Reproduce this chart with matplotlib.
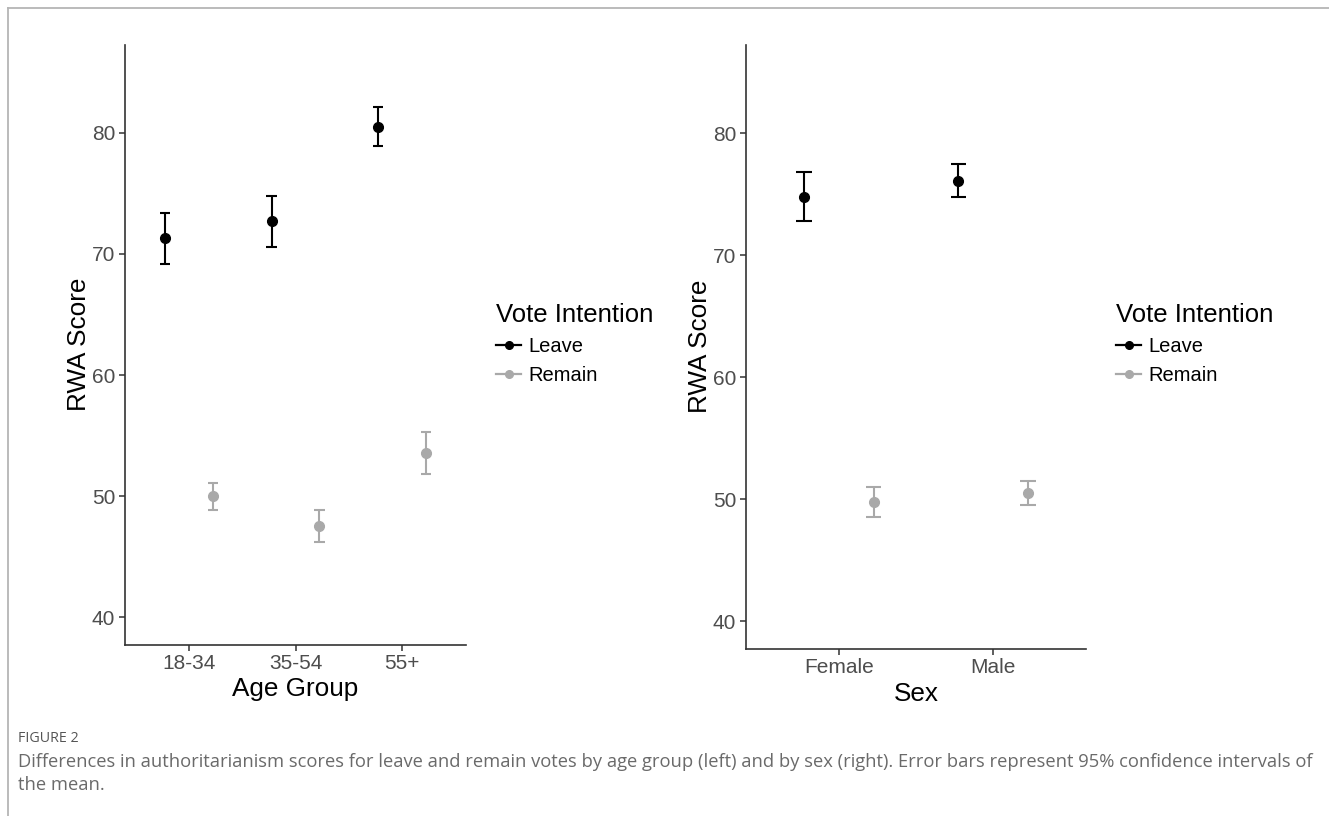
import numpy as np
import matplotlib
matplotlib.use("Agg")
import matplotlib.pyplot as plt
from matplotlib.lines import Line2D

plt.rcParams["font.family"] = ["Liberation Sans", "DejaVu Sans"]

# -----------------------------------------------------------------------
# Data: means and 95% CI bounds
# -----------------------------------------------------------------------
AGE_GROUPS = ["18-34", "35-54", "55+"]
AGE_LEAVE = [71.3, 72.7, 80.5]
AGE_LEAVE_LO = [69.2, 70.6, 78.9]
AGE_LEAVE_HI = [73.4, 74.8, 82.1]
AGE_REMAIN = [50.0, 47.55, 53.55]
AGE_REMAIN_LO = [48.9, 46.25, 51.8]
AGE_REMAIN_HI = [51.1, 48.85, 55.3]

SEXES = ["Female", "Male"]
SEX_LEAVE = [74.8, 76.1]
SEX_LEAVE_LO = [72.85, 74.8]
SEX_LEAVE_HI = [76.8, 77.45]
SEX_REMAIN = [49.75, 50.5]
SEX_REMAIN_LO = [48.55, 49.5]
SEX_REMAIN_HI = [51.0, 51.5]

Y_TICKS = [40, 50, 60, 70, 80]

LEAVE_COLOR = "#000000"
REMAIN_COLOR = "#a9a9a9"
AXIS_COLOR = "#333333"
TICK_TEXT = "#4d4d4d"
DODGE = 0.225
CAP_HALF = 0.05


def draw_group(ax, pos, mean, lo, hi, color):
    ax.vlines(pos, lo, hi, color=color, lw=1.5, zorder=2)
    ax.hlines(lo, pos - CAP_HALF, pos + CAP_HALF, color=color, lw=1.5, zorder=2)
    ax.hlines(hi, pos - CAP_HALF, pos + CAP_HALF, color=color, lw=1.5, zorder=2)
    ax.plot(pos, mean, "o", color=color, ms=7, zorder=3, mec=color)


def panel(ax, cats, leave, leave_lo, leave_hi, remain, remain_lo, remain_hi, xlabel):
    x = np.arange(1, len(cats) + 1)
    draw_group(ax, x - DODGE, leave, leave_lo, leave_hi, LEAVE_COLOR)
    draw_group(ax, x + DODGE, remain, remain_lo, remain_hi, REMAIN_COLOR)

    ax.set_xlim(0.4, len(cats) + 0.6)
    ax.set_ylim(37.75, 87.25)
    ax.set_xticks(x)
    ax.set_xticklabels(cats)
    ax.set_yticks(Y_TICKS)
    for side in ("top", "right"):
        ax.spines[side].set_visible(False)
    for side in ("left", "bottom"):
        ax.spines[side].set_color(AXIS_COLOR)
        ax.spines[side].set_linewidth(1.2)
    ax.tick_params(axis="both", length=4, width=1.1, color=AXIS_COLOR,
                   labelcolor=TICK_TEXT, labelsize=15, pad=3)
    ax.set_xlabel(xlabel, fontsize=18.8, labelpad=3)
    ax.set_ylabel("RWA Score", fontsize=18.8, labelpad=1)

    handles = [
        Line2D([], [], color=LEAVE_COLOR, marker="o", ms=5.5, lw=1.6),
        Line2D([], [], color=REMAIN_COLOR, marker="o", ms=5.5, lw=1.6),
    ]
    return handles


fig = plt.figure(figsize=(13.29, 8.16), dpi=100)
W, H = 1329, 816

ax1 = fig.add_axes([125 / W, 1 - 644.6 / H, (466 - 125) / W, (644.6 - 44.9) / H])
ax2 = fig.add_axes([746 / W, 1 - 648.7 / H, (1086 - 746) / W, (648.7 - 44.9) / H])

h1 = panel(ax1, AGE_GROUPS, AGE_LEAVE, AGE_LEAVE_LO, AGE_LEAVE_HI,
           AGE_REMAIN, AGE_REMAIN_LO, AGE_REMAIN_HI, "Age Group")
h2 = panel(ax2, SEXES, SEX_LEAVE, SEX_LEAVE_LO, SEX_LEAVE_HI,
           SEX_REMAIN, SEX_REMAIN_LO, SEX_REMAIN_HI, "Sex")

for ax, handles, lx in ((ax1, h1, 496), (ax2, h2, 1116)):
    leg = ax.legend(handles, ["Leave", "Remain"], title="Vote Intention",
                    loc="upper left", bbox_to_anchor=(lx / W, 1 - 303 / H),
                    bbox_transform=fig.transFigure, frameon=False,
                    fontsize=14.5, title_fontsize=18.5, handlelength=1.25,
                    handletextpad=0.35, labelspacing=0.5, alignment="left",
                    borderaxespad=0, borderpad=0)

# outer frame lines (top and left)
fig.add_artist(Line2D([7.5 / W, 7.5 / W], [0, 1 - 7.5 / H], color="#b5b5b5",
                      lw=1.3, transform=fig.transFigure))
fig.add_artist(Line2D([7.5 / W, 1], [1 - 7.5 / H, 1 - 7.5 / H], color="#b5b5b5",
                      lw=1.3, transform=fig.transFigure))

cap_font = ["Open Sans", "DejaVu Sans"]
fig.text(18 / W, 1 - 738 / H, "FIGURE 2", fontsize=10.3, color="#555555",
         family=cap_font, va="center", ha="left")
fig.text(18 / W, 1 - 762 / H,
         "Differences in authoritarianism scores for leave and remain votes by age group "
         "(left) and by sex (right). Error bars represent 95% confidence intervals of",
         fontsize=13.2, color="#6a6a6a", family=cap_font, va="center", ha="left")
fig.text(18 / W, 1 - 785 / H, "the mean.", fontsize=13.2, color="#6a6a6a",
         family=cap_font, va="center", ha="left")

fig.savefig("out.png", dpi=100)
